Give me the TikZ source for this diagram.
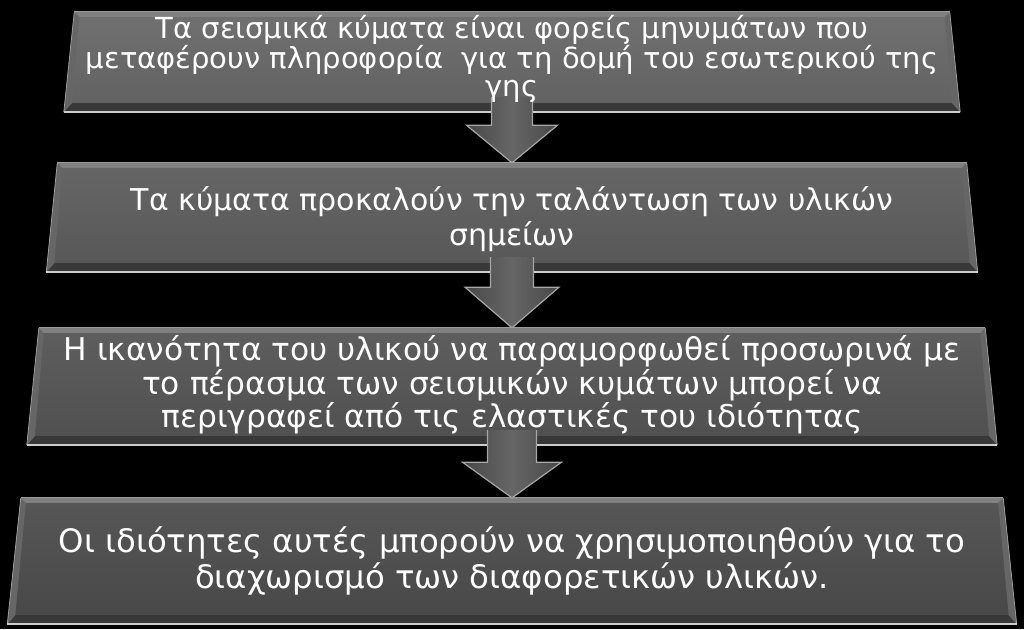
\documentclass[tikz,border=0pt]{standalone}
\usepackage{fontspec}
\newfontfamily\gr{DejaVu Sans}
\usetikzlibrary{calc}
\tikzset{
  boxframe/.style={rectangle, inner sep=0pt, draw=none},
  topband/.style={fill=black!50},
  botband/.style={fill=black!78},
  sideband/.style={fill=black!60},
  botline/.style={draw=black!20, line width=1.6pt},
  topline/.style={draw=black!40, line width=0.8pt},
  txt/.style={text=white, align=center, inner sep=0pt, font=\gr},
  blockarrow/.style={left color=black!72, right color=black!72, middle color=black!60,
    draw=black!35, line width=1.2pt, line join=miter},
}
% #1 name, #2 cy, #3 bottom width, #4 height, #5 slant, #6 top colour, #7 bottom colour
\newcommand\trapbox[7]{%
  \node[boxframe, minimum width=#3, minimum height=#4] (#1) at (512,#2) {};
  \path[top color=#6, bottom color=#7] ($(#1.north west)+(#5,0)$) -- ($(#1.north east)+(-#5,0)$)
     -- (#1.south east) -- (#1.south west) -- cycle;
  \path[botband] (#1.south west) -- (#1.south east) -- ($(#1.south east)+(-8,-9)$)
     -- ($(#1.south west)+(8,-9)$) -- cycle;
  \path[sideband] ($(#1.north west)+(#5,0)$) -- ($(#1.north west)+(#5+5,5)$)
     -- ($(#1.south west)+(8,-9)$) -- (#1.south west) -- cycle;
  \path[sideband] ($(#1.north east)+(-#5,0)$) -- ($(#1.north east)+(-#5-5,5)$)
     -- ($(#1.south east)+(-8,-9)$) -- (#1.south east) -- cycle;
  \path[topband] ($(#1.north west)+(#5,0)$) -- ($(#1.north east)+(-#5,0)$)
     -- ($(#1.north east)+(-#5-5,5)$) -- ($(#1.north west)+(#5+5,5)$) -- cycle;
  \draw[topline] ($(#1.north west)+(#5,0)$) -- ($(#1.north east)+(-#5,0)$);
  \draw[topline] ($(#1.north west)+(#5,0)$) -- (#1.south west);
  \draw[topline] ($(#1.north east)+(-#5,0)$) -- (#1.south east);
  \draw[botline] (#1.south west) -- (#1.south east);
}
% #1 upper box, #2 lower box, #3 shaft half width, #4 head half width, #5 head offset below box
\newcommand\blockdown[5]{%
  \draw[blockarrow] let \p1=(#1.south), \p2=(#2.north) in
    (\x1-#3pt,\y1+15pt) -- (\x1-#3pt,\y1-#5pt) -- (\x1-#4pt,\y1-#5pt) -- (\x1,\y2)
    -- (\x1+#4pt,\y1-#5pt) -- (\x1+#3pt,\y1-#5pt) -- (\x1+#3pt,\y1+15pt);
}
\begin{document}
\begin{tikzpicture}[x=1pt,y=-1pt]
  \fill[black] (0,0) rectangle (1024,629);
  \useasboundingbox (0,0) rectangle (1024,629);

  \trapbox{b1}{62}{896pt}{100pt}{10.5}{black!56}{black!62}
  \trapbox{b2}{217.5}{931pt}{109pt}{11}{black!60}{black!66}
  \trapbox{b3}{386.5}{970pt}{117pt}{12}{black!63}{black!69}
  \trapbox{b4}{561}{1009pt}{126pt}{13.5}{black!66}{black!72}

  \blockdown{b1}{b2}{20.5}{45.5}{13}
  \blockdown{b2}{b3}{21.5}{47}{15}
  \blockdown{b3}{b4}{24.5}{49.5}{17}

  \node[txt, font=\gr\fontsize{29}{28.5}\selectfont] (t1) at ($(b1.center)+(0,-3)$)
    {Τα σεισμικά κύματα είναι φορείς μηνυμάτων που\\
     μεταφέρουν πληροφορία~ για τη δομή του εσωτερικού της\\ γης};
  \node[txt, font=\gr\fontsize{30}{35}\selectfont] (t2) at ($(b2.center)+(0,1.5)$)
    {Τα κύματα προκαλούν την ταλάντωση των υλικών\\ σημείων};
  \node[txt, font=\gr\fontsize{31.3}{33.5}\selectfont] (t3) at ($(b3.center)+(0,-1.5)$)
    {Η ικανότητα του υλικού να παραμορφωθεί προσωρινά με\\
     το πέρασμα των σεισμικών κυμάτων μπορεί να\\
     περιγραφεί από τις ελαστικές του ιδιότητας};
  \node[txt, font=\gr\fontsize{32.3}{36}\selectfont] (t4) at ($(b4.center)+(0,0)$)
    {Οι ιδιότητες αυτές μπορούν να χρησιμοποιηθούν για το\\
     διαχωρισμό των διαφορετικών υλικών.};
\end{tikzpicture}
\end{document}
